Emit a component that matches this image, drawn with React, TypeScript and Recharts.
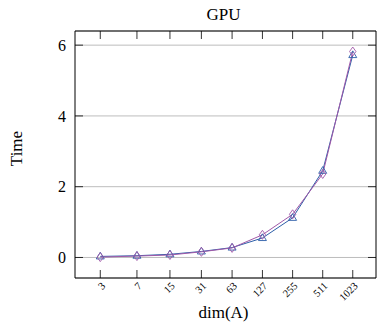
import React from 'react';
import { LineChart, Line, XAxis, YAxis, CartesianGrid, Label } from 'recharts';

const dims = [3, 7, 15, 31, 63, 127, 255, 511, 1023];
const seriesTriangle = [0.03, 0.05, 0.09, 0.17, 0.28, 0.55, 1.12, 2.45, 5.72];
const seriesDiamond = [0.01, 0.04, 0.07, 0.16, 0.27, 0.64, 1.22, 2.36, 5.82];
const yTicks = [0, 2, 4, 6];

const data = dims.map((d, i) => ({ dim: d, a: seriesTriangle[i], b: seriesDiamond[i] }));

const BLUE = '#2c5ea8';
const PURPLE = '#a058a8';
const FONT = '"Liberation Serif", "DejaVu Serif", serif';
const TS = 8;

const BottomTick = (props: any) => {
  const { x, y, payload } = props;
  const ax = x + 3;
  const ay = y + TS + 6;
  return (
    <text x={ax} y={ay} transform={`rotate(-45, ${ax}, ${ay})`} textAnchor="end" dy="0.35em" style={{ fontFamily: FONT }} fontSize={10.5} fill="#000">
      {payload.value}
    </text>
  );
};

const LeftTick = (props: any) => {
  const { x, y, payload } = props;
  return (
    <text x={x - TS - 9} y={y} dy="0.35em" textAnchor="end" style={{ fontFamily: FONT }} fontSize={16} fill="#000">
      {payload.value}
    </text>
  );
};

const NoTick = () => <g />;

const TriangleDot = (props: any) => {
  const { cx, cy, index } = props;
  if (cx == null || cy == null) return <g key={index} />;
  const r = 4.2;
  const d = `M${cx},${cy - r} L${cx + r * 0.95},${cy + r * 0.6} L${cx - r * 0.95},${cy + r * 0.6} Z`;
  return <path key={index} d={d} fill="none" stroke={BLUE} strokeWidth={0.9} />;
};

const DiamondDot = (props: any) => {
  const { cx, cy, index } = props;
  if (cx == null || cy == null) return <g key={index} />;
  const h = 4.5;
  const w = 3.2;
  const d = `M${cx},${cy - h} L${cx + w},${cy} L${cx},${cy + h} L${cx - w},${cy} Z`;
  return <path key={index} d={d} fill="none" stroke={PURPLE} strokeWidth={0.9} />;
};

const YLabel = (props: any) => {
  const vb = props.viewBox;
  const cx = 16;
  const cy = vb.y + vb.height / 2 - 6;
  return (
    <text x={cx} y={cy} transform={`rotate(-90, ${cx}, ${cy})`} textAnchor="middle" dy="0.35em" style={{ fontFamily: FONT }} fontSize={17} fill="#000">
      Time
    </text>
  );
};

const XLabel = (props: any) => {
  const vb = props.viewBox;
  return (
    <text x={vb.x + vb.width / 2 - 2} y={vb.y + 34} textAnchor="middle" dy="0.35em" style={{ fontFamily: FONT }} fontSize={17} fill="#000">
      dim(A)
    </text>
  );
};

const Title = (props: any) => {
  const vb = props.viewBox;
  return (
    <text x={vb.x + vb.width / 2 - 2} y={vb.y - 16} textAnchor="middle" dy="0.35em" style={{ fontFamily: FONT }} fontSize={17} fill="#000">
      GPU
    </text>
  );
};

const xDomain: [number, number] = [Math.pow(2, 0.743), Math.pow(2, 10.773)];
const yDomain: [number, number] = [-0.58, 6.4];
const tl = { stroke: '#000', strokeWidth: 0.8 };
const al = { stroke: '#000', strokeWidth: 1 };

export default function App() {
  return (
    <div style={{ position: 'absolute', left: 0, top: 0, width: 377, height: 324, overflow: 'hidden', background: '#fff' }}>
      <LineChart width={380} height={324} data={data} margin={{ top: 30, right: 3, bottom: 0, left: 0 }}>
        <CartesianGrid horizontal vertical={false} stroke="#bdbdbd" strokeWidth={1} />
        <XAxis dataKey="dim" type="number" scale="log" domain={xDomain} allowDataOverflow ticks={dims} height={46}
          tickSize={-TS} tickMargin={0} tickLine={tl} axisLine={al} tick={<BottomTick />} interval={0}>
          <Label content={<XLabel />} />
        </XAxis>
        <XAxis xAxisId="top" orientation="top" dataKey="dim" type="number" scale="log" domain={xDomain} allowDataOverflow ticks={dims} height={1}
          tickSize={-TS} tickMargin={0} tickLine={tl} axisLine={al} tick={<NoTick />} interval={0}>
          <Label content={<Title />} />
        </XAxis>
        <YAxis type="number" domain={yDomain} allowDataOverflow ticks={yTicks} width={75}
          tickSize={-TS} tickMargin={0} tickLine={tl} axisLine={al} tick={<LeftTick />} interval={0}>
          <Label content={<YLabel />} />
        </YAxis>
        <YAxis yAxisId="right" orientation="right" type="number" domain={yDomain} allowDataOverflow ticks={yTicks} width={1}
          tickSize={-TS} tickMargin={0} tickLine={tl} axisLine={al} tick={<NoTick />} interval={0} />
        <Line dataKey="a" stroke={BLUE} strokeWidth={1} dot={<TriangleDot />} activeDot={false} isAnimationActive={false} type="linear" />
        <Line dataKey="b" stroke={PURPLE} strokeWidth={1} dot={<DiamondDot />} activeDot={false} isAnimationActive={false} type="linear" />
      </LineChart>
    </div>
  );
}
